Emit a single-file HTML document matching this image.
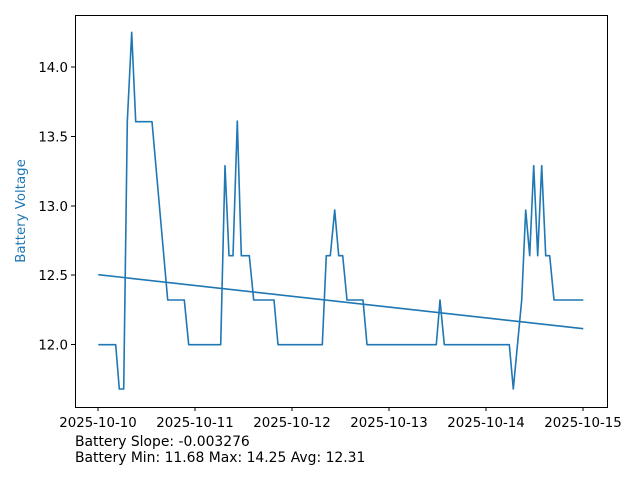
<!DOCTYPE html>
<html><head><meta charset="utf-8"><style>
body{margin:0;background:#fff}
svg text{font-family:"DejaVu Sans","Liberation Sans",sans-serif;font-size:13.33px;fill:#000}
</style></head><body>
<svg width="640" height="480" viewBox="0 0 640 480" xmlns="http://www.w3.org/2000/svg">
<rect width="640" height="480" fill="#fff"/>
<g stroke="#000" stroke-width="1">
<line x1="75" y1="67" x2="71" y2="67"/><line x1="75" y1="136.5" x2="71" y2="136.5"/><line x1="75" y1="206" x2="71" y2="206"/><line x1="75" y1="275" x2="71" y2="275"/><line x1="75" y1="344.5" x2="71" y2="344.5"/>
<line x1="98" y1="407" x2="98" y2="411"/><line x1="195" y1="407" x2="195" y2="411"/><line x1="292" y1="407" x2="292" y2="411"/><line x1="389" y1="407" x2="389" y2="411"/><line x1="486" y1="407" x2="486" y2="411"/><line x1="583" y1="407" x2="583" y2="411"/>
</g>
<g text-anchor="end">
<text x="68" y="72">14.0</text><text x="68" y="141.5">13.5</text><text x="68" y="211">13.0</text><text x="68" y="280">12.5</text><text x="68" y="349.5">12.0</text>
</g>
<g text-anchor="middle">
<text x="98" y="427">2025-10-10</text><text x="195" y="427">2025-10-11</text><text x="292" y="427">2025-10-12</text><text x="389" y="427">2025-10-13</text><text x="486" y="427">2025-10-14</text><text x="583" y="427">2025-10-15</text>
</g>
<text x="25" y="211" text-anchor="middle" transform="rotate(-90 25 211)" style="fill:#1f77b4">Battery Voltage</text>
<text x="75" y="446" style="font-size:13.9px">Battery Slope: -0.003276</text>
<text x="75" y="462" style="font-size:13.9px">Battery Min: 11.68 Max: 14.25 Avg: 12.31</text>
<g fill="none" stroke="#1f77b4" stroke-width="1.6" stroke-linejoin="round">
<polyline points="98.3,344.7 115.7,344.7 119.3,389 123.7,389 127.3,121.7 131.7,32.3 135.7,121.7 152,121.7 167.7,300 184.3,300 188.7,344.7 220.7,344.7 225,165.7 229,255.7 233,255.7 237.3,121 241.3,255.7 249.3,255.7 253.7,300 274,300 278,344.7 322.3,344.7 326.3,255.7 330.3,255.7 334.7,210 338.7,255.7 342.7,255.7 347,300 363,300 367,344.7 436.3,344.7 440,300 444.3,344.7 509.3,344.7 513.3,389 521.7,300 525.7,210 529.7,255.7 533.7,165.7 537.7,255.7 541.7,165.7 545.7,255.7 549.7,255.7 554,300 583.3,300"/>
<line x1="98.3" y1="274.7" x2="583.3" y2="328.7"/>
</g>
<rect x="75.5" y="15.5" width="532" height="392" fill="none" stroke="#000" stroke-width="1"/>
</svg>
</body></html>
